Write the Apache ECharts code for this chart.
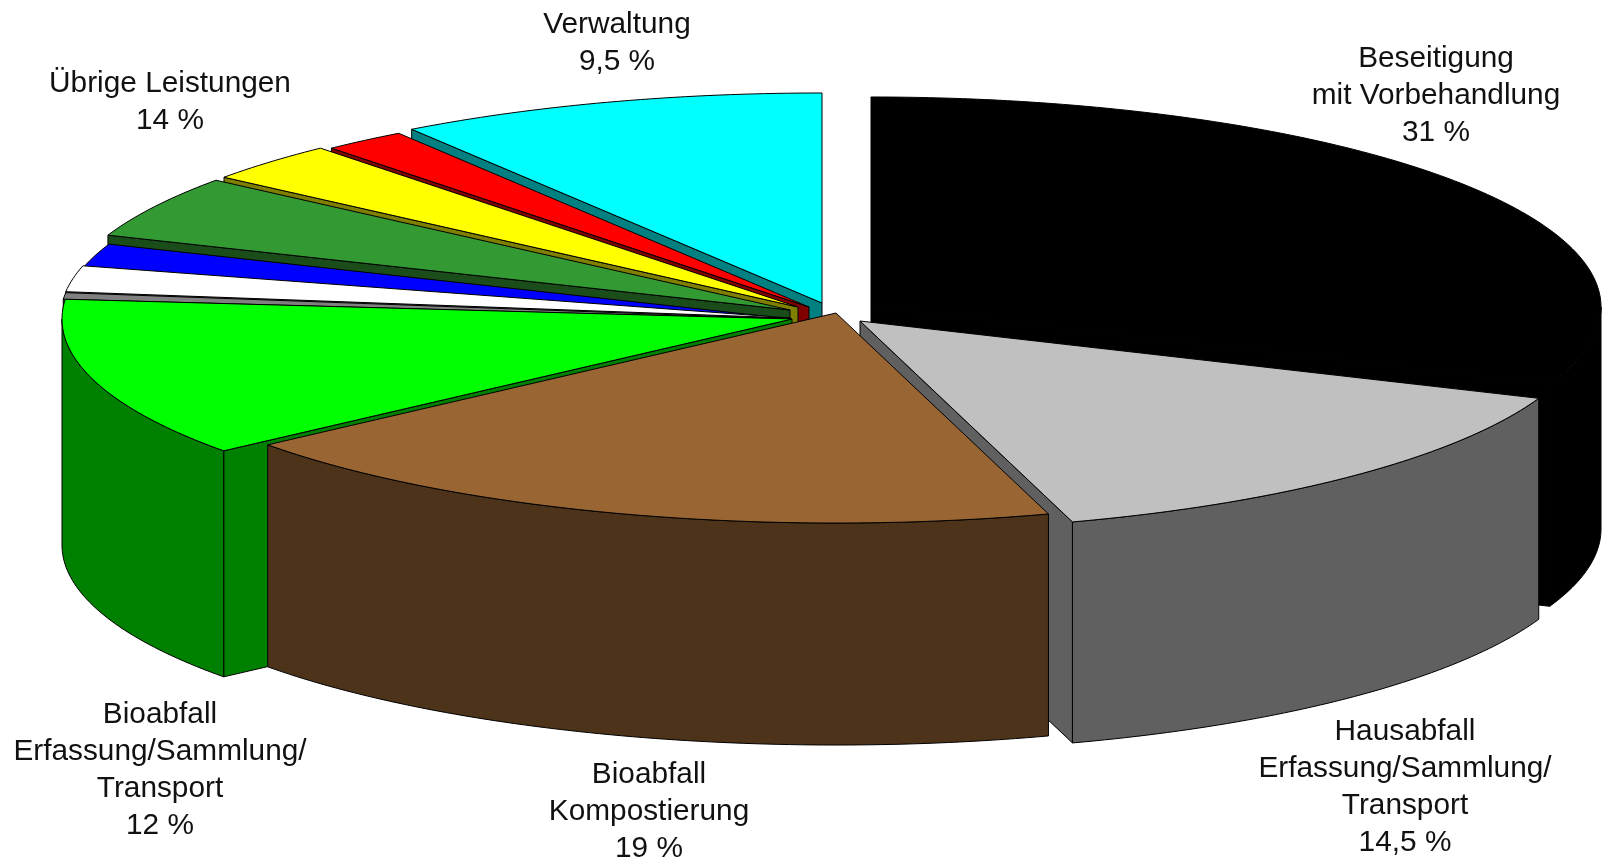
<!DOCTYPE html>
<html>
<head>
<meta charset="utf-8">
<style>html,body{margin:0;padding:0;background:#fff}#c{width:1602px;height:858px}</style>
<script src="https://cdn.jsdelivr.net/npm/echarts@6/dist/echarts.min.js"></script>
</head>
<body>
<div id="c"></div>
<script>
// ---- data (clockwise from 12 o'clock) ----
var categories = ['Beseitigung mit Vorbehandlung','Hausabfall Erfassung/Sammlung/Transport','Bioabfall Kompostierung','Bioabfall Erfassung/Sammlung/Transport','Übrige 1','Übrige 2','Übrige 3','Übrige 4','Übrige 5','Übrige 6','Verwaltung'];
var values = [31, 14.3, 18.9, 12.3, 0.5, 2, 1.8, 4.8, 3.05, 1.85, 9.5];
var labelTexts = ['Beseitigung\nmit Vorbehandlung\n31 %','Hausabfall\nErfassung/Sammlung/\nTransport\n14,5 %','Bioabfall\nKompostierung\n19 %','Bioabfall\nErfassung/Sammlung/\nTransport\n12 %','Übrige Leistungen\n14 %','Verwaltung\n9,5 %'];

// ---- styles and layout ----
var topColors = ['#000000','#C0C0C0','#996633','#00FF00','#808080','#FFFFFF','#0000FF','#339933','#FFFF00','#FF0000','#00FFFF'];
var sideColors = ['#000000','#606060','#4D3319','#008000','#404040','#808080','#000080','#1A4D1A','#808000','#800000','#008080'];
var explodeX = [51,40,16,-28,-30,-30,-29,-30,-22,-11,2];
var explodeY = [-3,11,3,9,9,8,9,0,-3,-3,-7];
var depths = [222,221,222,226,222,222,222,222,222,222,222];
var drawOrder = [0,10,9,8,7,6,5,4,3,1,2];
var labelCenterX = [1436,1405,649,160,170,617];
var labelTopY = [40,713,756,696,65,6];
var CX = 820, CY = 310, RX = 730, TILT = 0.2877, FONT = 29.8, LINE = 37;

var starts = [], acc = 0;
values.forEach(function (v) { starts.push(acc); acc += v; });

function renderSlice(params, api) {
  var start = api.value(1), val = api.value(2), i = api.value(3), end = start + val, DEPTH = depths[i];
  function pt(pct, r, drop) {
    var p = api.coord([r, pct]);
    return [p[0] + explodeX[i], CY + (p[1] - CY) * TILT + explodeY[i] + drop];
  }
  function arc(a, b, drop) {
    var out = [], n = Math.max(2, Math.ceil((b - a) * 4));
    for (var k = 0; k <= n; k++) out.push(pt(a + (b - a) * k / n, 1, drop));
    return out;
  }
  function poly(points, fill) {
    return { type: 'polygon', shape: { points: points },
      style: { fill: fill, stroke: '#000', lineWidth: 1, lineJoin: 'round' } };
  }
  function radial(pct) {
    return poly([pt(pct, 0, 0), pt(pct, 1, 0), pt(pct, 1, DEPTH), pt(pct, 0, DEPTH)], sideColors[i]);
  }
  var children = [];
  // radial wall facing the viewer
  if (start > 50 && start < 100) children.push(radial(start));
  if (end > 0 && end < 50) children.push(radial(end));
  // outer wall on the front half of the rim
  var a = Math.max(start, 25), b = Math.min(end, 75);
  if (b > a) children.push(poly(arc(a, b, 0).concat(arc(a, b, DEPTH).reverse()), sideColors[i]));
  // top surface
  children.push(poly([pt(start, 0, 0)].concat(arc(start, end, 0)), topColors[i]));
  return { type: 'group', children: children };
}

var chart = echarts.init(document.getElementById('c'), null, { renderer: 'canvas' });
chart.setOption({
  animation: false,
  backgroundColor: '#ffffff',
  polar: { center: [CX, CY], radius: RX },
  angleAxis: { type: 'value', min: 0, max: 100, startAngle: 90, clockwise: true, show: false },
  radiusAxis: { type: 'value', min: 0, max: 1, show: false },
  series: [{
    type: 'custom',
    coordinateSystem: 'polar',
    clip: false,
    silent: true,
    encode: { radius: 0, angle: 1 },
    renderItem: renderSlice,
    data: drawOrder.map(function (i) { return { name: categories[i], value: [1, starts[i], values[i], i] }; })
  }],
  graphic: labelTexts.map(function (t, k) {
    return { type: 'text', x: labelCenterX[k], y: labelTopY[k], silent: true,
      style: { text: t, fill: '#111', textAlign: 'center', textVerticalAlign: 'top',
        font: FONT + 'px "Liberation Sans", Arial, sans-serif', lineHeight: LINE } };
  })
});
</script>
</body>
</html>
